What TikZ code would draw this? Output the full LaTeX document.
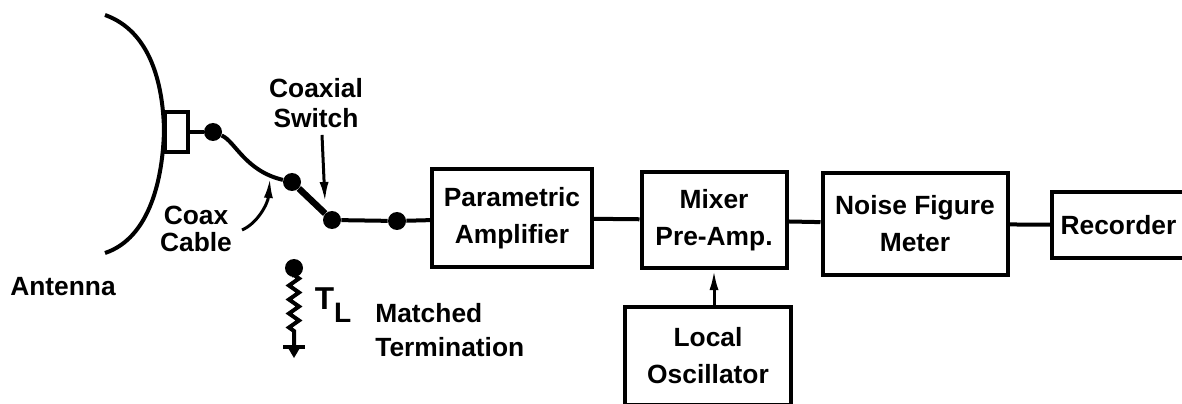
\documentclass[tikz,border=0pt]{standalone}
\usepackage{fontspec}
\setmainfont{Liberation Sans}
\usetikzlibrary{arrows.meta,decorations.pathmorphing}
\tikzset{
  block/.style={draw, line width=0.8mm, align=center, inner sep=0pt, font=\fontsize{15}{18}\selectfont\bfseries},
  dot/.style={circle, fill=black, inner sep=0pt, minimum size=3.6mm},
  lbl/.style={align=center, inner sep=0pt, font=\fontsize{15}{18}\selectfont\bfseries},
  arr/.style={line width=0.6mm, -{Latex[length=4mm,width=1.8mm]}},
  wire/.style={line width=0.8mm}
}
\begin{document}
\begin{tikzpicture}[x=0.2mm,y=0.2mm]
			%%%%% START %%%%%
			\clip (0,0) rectangle (1182,403);
			
			% antenna dish and feed
			\draw[wire] (105,388) .. controls (150,372) and (163,320) .. (164,273) .. controls (163,225) and (150,165) .. (105,150);
			\draw[wire] (165,251) rectangle (188,291);
			\coordinate (feed) at (188,271);
			\node[lbl] (ant) at (63,116) {Antenna};
			
			% cable and switch
			\node[dot] (d1) at (213,271) {};
			\node[dot] (d2) at (292,221) {};
			\node[dot] (sw) at (332,183) {};
			\node[dot] (d3) at (397,182) {};
			\draw[wire] (feed) -- (d1);
			\draw[wire] (d1) .. controls (235,262) and (245,232) .. (d2);
			\draw[line width=1.3mm] (d2) -- (sw);
			\draw[wire] (sw) -- (d3);
			
			\node[lbl] (cclbl) at (196,174) {Coax\\[-2.6pt]Cable};
			\coordinate (cctail) at (242,173);
			\coordinate (cctip) at (270,225);
			\draw[arr] (cctail) .. controls (258,180) and (268,200) .. (cctip);
			
			\node[lbl] (swlbl) at (316,300) {Coaxial\\[-1pt]Switch};
			\coordinate (swtip) at (325,201);
			\draw[arr] ([shift={(6,-7)}]swlbl.south) -- (swtip);
			
			% matched termination
			\node[dot] (rt) at (294,135) {};
			\coordinate (gnd) at (294,56);
			\draw[wire] (rt) -- (294,128) decorate[decoration={zigzag, amplitude=1mm, segment length=2.8mm}] {-- (294,70)} -- (gnd);
			\draw[wire] ([xshift=-2.2mm]gnd) -- ([xshift=2.2mm]gnd);
			\fill ([xshift=-1.3mm]gnd) -- ([xshift=1.3mm]gnd) -- ([yshift=-2.2mm]gnd) -- cycle;
			\node[lbl] (tl) at (333,98) {\fontsize{18}{18}\selectfont T\raisebox{-7pt}{\fontsize{16}{16}\selectfont L}};
			\node[lbl, align=left, anchor=west] (mtlbl) at (375,73) {Matched\\[1pt]Termination};
			
			% receiver chain
			\node[block, minimum width=32mm, minimum height=19.6mm] (param) at (512,185) {Parametric\\[3pt]Amplifier};
			\node[block, minimum width=29mm, minimum height=19.2mm] (mixer) at (714,183) {Mixer\\[3pt]Pre-Amp.};
			\node[block, minimum width=37mm, minimum height=20.4mm] (nfm) at (915,179) {Noise Figure\\[3pt]Meter};
			\node[block, minimum width=26.6mm, minimum height=13.2mm] (rec) at (1118.5,178) {Recorder};
			\node[block, minimum width=33.2mm, minimum height=19.6mm] (lo) at (708,47) {Local\\[3pt]Oscillator};
			
			\draw[wire] (d3) -- (param);
			\draw[wire] (param) -- (mixer);
			\draw[wire] (mixer) -- (nfm);
			\draw[wire] (nfm) -- (rec);
			\draw[arr] (lo.north -| mixer.south) -- (mixer.south);
			
			%%%%% END %%%%%
\end{tikzpicture}
\end{document}
